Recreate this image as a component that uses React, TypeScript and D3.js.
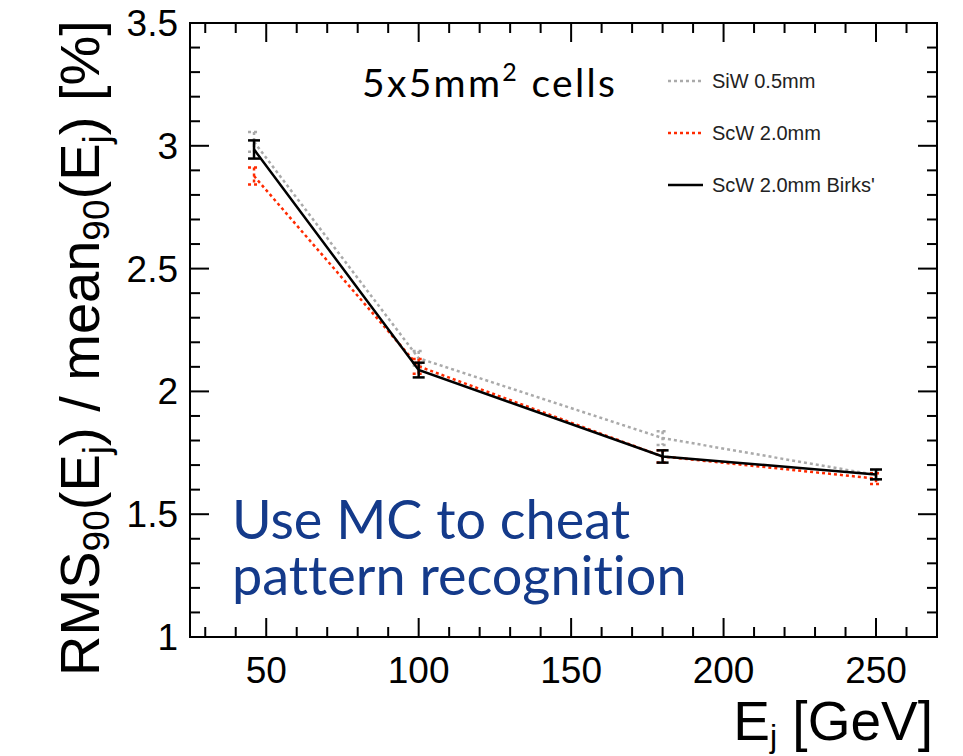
import * as d3 from "d3";

const energies = [46, 100, 180, 250];
const siwValues = [3.016, 2.135, 1.81, 1.66];
const siwErrors = [0.04, 0.03, 0.028, 0.02];
const scwValues = [2.877, 2.102, 1.735, 1.645];
const scwErrors = [0.035, 0.03, 0.025, 0.022];
const birksValues = [2.985, 2.087, 1.735, 1.662];
const birksErrors = [0.037, 0.03, 0.025, 0.02];

const xTicks = [50, 100, 150, 200, 250];
const yTicks = [1, 1.5, 2, 2.5, 3, 3.5];
const legendLabels = ["SiW 0.5mm", "ScW 2.0mm", "ScW 2.0mm Birks'"];

const W = 963;
const H = 756;
const frame = { left: 190, right: 937, top: 23, bottom: 637 };

const x = d3.scaleLinear().domain([25, 270]).range([frame.left, frame.right]);
const y = d3.scaleLinear().domain([1, 3.5]).range([frame.bottom, frame.top]);

type Series = {
  values: number[];
  errors: number[];
  color: string;
  dash?: string;
};

const series: Series[] = [
  { values: siwValues, errors: siwErrors, color: "#aaaaaa", dash: "3,3" },
  { values: scwValues, errors: scwErrors, color: "#ff2a00", dash: "3,3" },
  { values: birksValues, errors: birksErrors, color: "#000000" },
];

const tickFont = "Liberation Sans, Arial, sans-serif";

const App = () => {
  const line = d3
    .line<number>()
    .x((_, i) => x(energies[i]))
    .y((d) => y(d));

  // minor ticks every 10 on x, every 0.1 on y
  const xMinor = d3.range(30, 271, 10).filter((v) => v % 50 !== 0);
  const yMinor = d3
    .range(1, 3.5001, 0.1)
    .map((v) => +v.toFixed(2))
    .filter((v) => Math.abs(v * 2 - Math.round(v * 2)) > 0.01);

  const major = 19;
  const minor = 10;

  return (
    <div style={{ position: "absolute", left: 0, top: 0 }}>
      <svg width={W} height={H} style={{ display: "block", background: "#fff" }}>
        {/* frame */}
        <rect
          x={frame.left}
          y={frame.top}
          width={frame.right - frame.left}
          height={frame.bottom - frame.top}
          fill="none"
          stroke="#000"
          strokeWidth={2}
        />
        {/* ticks on all four sides */}
        <g stroke="#000" strokeWidth={2}>
          {xTicks.map((t) => (
            <g key={"xm" + t}>
              <line x1={x(t)} x2={x(t)} y1={frame.bottom} y2={frame.bottom - major} />
              <line x1={x(t)} x2={x(t)} y1={frame.top} y2={frame.top + major} />
            </g>
          ))}
          {xMinor.map((t) => (
            <g key={"xn" + t}>
              <line x1={x(t)} x2={x(t)} y1={frame.bottom} y2={frame.bottom - minor} />
              <line x1={x(t)} x2={x(t)} y1={frame.top} y2={frame.top + minor} />
            </g>
          ))}
          {yTicks.map((t) => (
            <g key={"ym" + t}>
              <line x1={frame.left} x2={frame.left + major} y1={y(t)} y2={y(t)} />
              <line x1={frame.right} x2={frame.right - major} y1={y(t)} y2={y(t)} />
            </g>
          ))}
          {yMinor.map((t) => (
            <g key={"yn" + t}>
              <line x1={frame.left} x2={frame.left + minor} y1={y(t)} y2={y(t)} />
              <line x1={frame.right} x2={frame.right - minor} y1={y(t)} y2={y(t)} />
            </g>
          ))}
        </g>
        {/* tick labels */}
        <g fontFamily={tickFont} fontSize={37} fill="#000">
          {xTicks.map((t) => (
            <text key={"xl" + t} x={x(t)} y={683} textAnchor="middle">
              {t}
            </text>
          ))}
          {yTicks.map((t) => (
            <text key={"yl" + t} x={178} y={y(t) + 13} textAnchor="end">
              {t}
            </text>
          ))}
        </g>
        {/* axis titles */}
        <text x={933} y={740} textAnchor="end" fontFamily={tickFont} fontSize={55}>
          E
          <tspan fontSize={32} dy={7}>
            j
          </tspan>
          <tspan dy={-7}> [GeV]</tspan>
        </text>
        <text
          transform="translate(99,348) rotate(-90)"
          textAnchor="middle"
          fontFamily={tickFont}
          fontSize={56}
        >
          RMS
          <tspan fontSize={37} dy={10}>90</tspan>
          <tspan dy={-10}>(E</tspan>
          <tspan fontSize={37} dy={10}>j</tspan>
          <tspan dy={-10}>) / mean</tspan>
          <tspan fontSize={37} dy={10}>90</tspan>
          <tspan dy={-10}>(E</tspan>
          <tspan fontSize={37} dy={10}>j</tspan>
          <tspan dy={-10}>) [%]</tspan>
        </text>
        {/* data */}
        {series.map((s, si) => (
          <g key={"s" + si} stroke={s.color} strokeWidth={2.5} fill="none" strokeDasharray={s.dash}>
            <path d={line(s.values) ?? ""} />
            {s.values.map((v, i) => {
              const cx = x(energies[i]);
              const y1 = y(v + s.errors[i]);
              const y2 = y(v - s.errors[i]);
              return (
                <g key={i}>
                  <line x1={cx} x2={cx} y1={y1} y2={y2} />
                  <line x1={cx - 6} x2={cx + 6} y1={y1} y2={y1} />
                  <line x1={cx - 6} x2={cx + 6} y1={y2} y2={y2} />
                </g>
              );
            })}
          </g>
        ))}
        {/* legend */}
        {series.map((s, i) => (
          <g key={"lg" + i}>
            <line
              x1={668}
              x2={703}
              y1={81 + i * 52}
              y2={81 + i * 52}
              stroke={s.color}
              strokeWidth={2.5}
              strokeDasharray={s.dash}
            />
            <text x={712} y={88 + i * 52} fontFamily={tickFont} fontSize={20} fill="#222">
              {legendLabels[i]}
            </text>
          </g>
        ))}
        {/* annotations */}
        <text
          x={362}
          y={97}
          fontFamily="Lato, sans-serif"
          fontSize={39}
          letterSpacing={2.3}
          fill="#000"
        >
          5x5mm
          <tspan fontSize={25} dy={-16}>2</tspan>
          <tspan dy={16}> cells</tspan>
        </text>
        <g
          fontFamily="Lato, sans-serif"
          fontSize={54}
          fill="#143a8a"
          style={{ fontVariantLigatures: "none" }}
        >
          <text x={232} y={539}>Use MC to cheat</text>
          <text x={232} y={595}>pattern recognition</text>
        </g>
      </svg>
    </div>
  );
};

export default App;
